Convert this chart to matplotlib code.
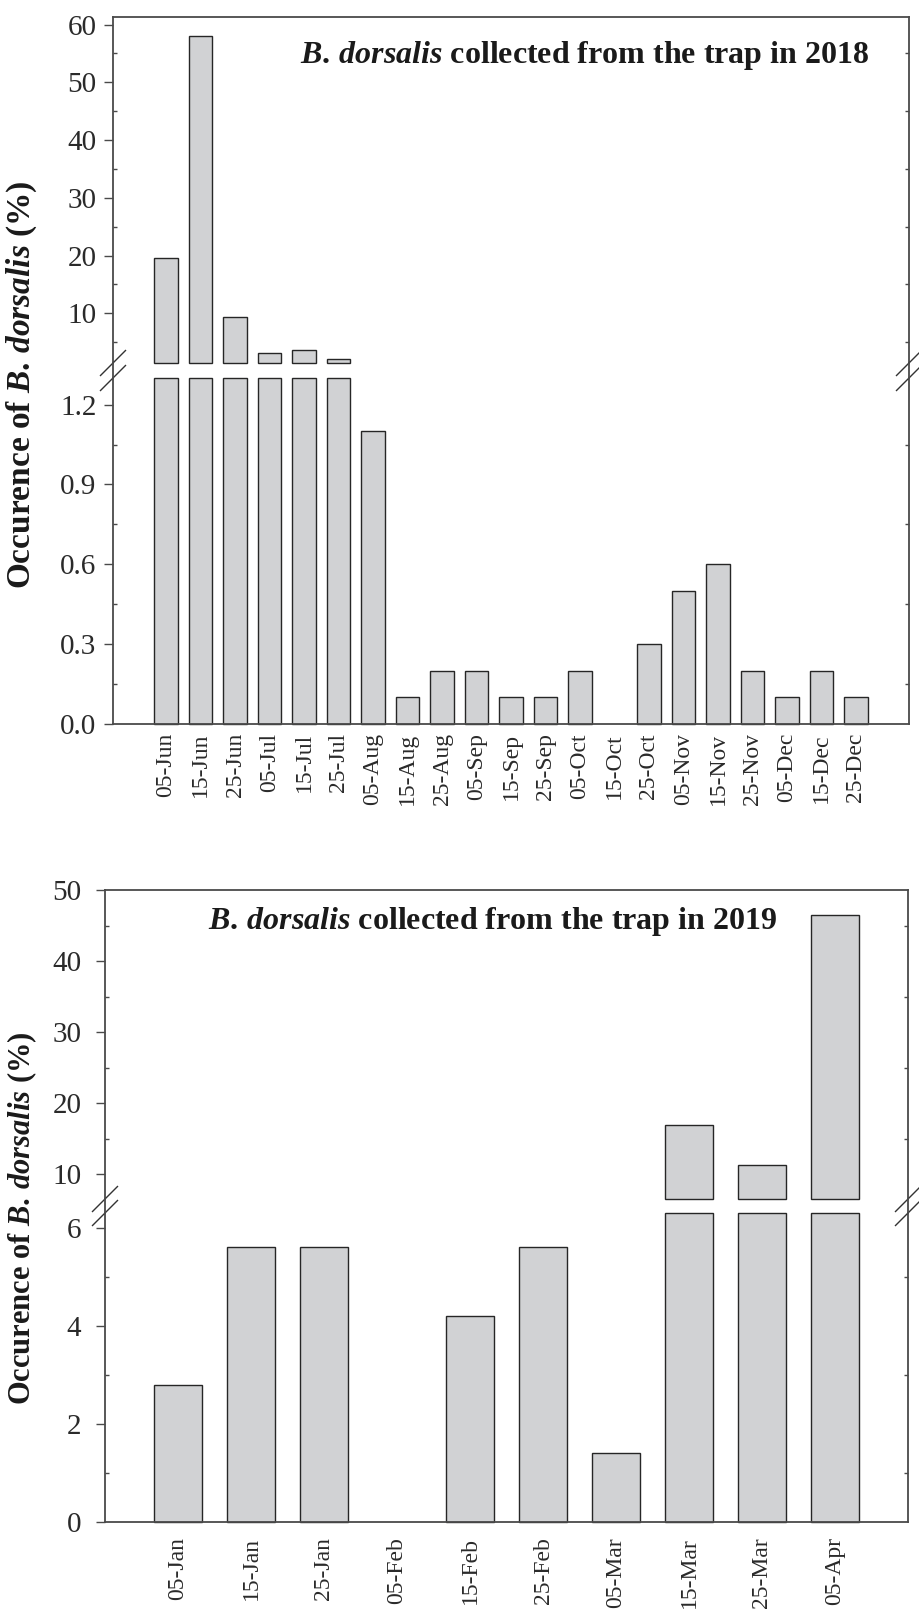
import numpy as np
import matplotlib.pyplot as plt
from matplotlib.lines import Line2D
from matplotlib.ticker import MultipleLocator, FormatStrFormatter

plt.rcParams['font.family'] = 'Liberation Serif'
plt.rcParams['mathtext.fontset'] = 'custom'
plt.rcParams['mathtext.it'] = 'Liberation Serif:italic:bold'
plt.rcParams['mathtext.rm'] = 'Liberation Serif:bold'

# data (occurrence in %)
dates_2018 = ['05-Jun', '15-Jun', '25-Jun', '05-Jul', '15-Jul', '25-Jul', '05-Aug',
              '15-Aug', '25-Aug', '05-Sep', '15-Sep', '25-Sep', '05-Oct', '15-Oct',
              '25-Oct', '05-Nov', '15-Nov', '25-Nov', '05-Dec', '15-Dec', '25-Dec']
occ_2018 = [19.6, 58.0, 9.3, 3.2, 3.7, 2.1, 1.1,
            0.1, 0.2, 0.2, 0.1, 0.1, 0.2, 0.0,
            0.3, 0.5, 0.6, 0.2, 0.1, 0.2, 0.1]

dates_2019 = ['05-Jan', '15-Jan', '25-Jan', '05-Feb', '15-Feb',
              '25-Feb', '05-Mar', '15-Mar', '25-Mar', '05-Apr']
occ_2019 = [2.8, 5.6, 5.6, 0.0, 4.2, 5.6, 1.4, 16.9, 11.3, 46.5]

BAR_FILL = '#d1d2d4'
BAR_EDGE = '#262626'
SPINE = '#4a4a4a'
TXT = '#2a2a2a'

fig = plt.figure(figsize=(9.19, 16.13), dpi=100)


def draw_panel(ax_lo, ax_hi, labels, values, xlim, lo_lim, hi_lim, lo_major, hi_major,
               lo_fmt, ylab_pad, xlab_pad, xlab_size, bar_w, px_w, px_h):
    x = np.arange(len(labels))
    v = np.array(values)

    # lower segment: bars cut at the top of the range (empty dates get no bar)
    m = v > 0
    bars = ax_lo.bar(x[m], np.minimum(v[m], lo_lim[1]), width=bar_w, color=BAR_FILL,
                     edgecolor=BAR_EDGE, linewidth=1.0, zorder=2)
    for b in bars:
        b.set_clip_on(False)
    # upper segment: only the bars that reach it, starting at the segment floor
    m = v > hi_lim[0]
    bars = ax_hi.bar(x[m], v[m] - hi_lim[0], bottom=hi_lim[0], width=bar_w, color=BAR_FILL,
                     edgecolor=BAR_EDGE, linewidth=1.0, zorder=2)
    for b in bars:
        b.set_clip_on(False)

    for ax, lim, major in [(ax_lo, lo_lim, lo_major), (ax_hi, hi_lim, hi_major)]:
        ax.set_xlim(*xlim)
        ax.set_ylim(*lim)
        ax.yaxis.set_major_locator(MultipleLocator(major))
        ax.yaxis.set_minor_locator(MultipleLocator(major / 2))
        ax.tick_params(axis='y', which='major', direction='out', length=6.5, width=1.0,
                       left=True, right=False, labelsize=21, pad=ylab_pad,
                       color=SPINE, labelcolor=TXT)
        ax.tick_params(axis='y', which='minor', direction='in', length=3.2, width=1.0,
                       left=True, right=True, color=SPINE)
        for s in ax.spines.values():
            s.set_color(SPINE)
            s.set_linewidth(1.3)

    ax_lo.yaxis.set_major_formatter(FormatStrFormatter(lo_fmt))
    ax_lo.spines['top'].set_visible(False)
    ax_hi.spines['bottom'].set_visible(False)

    ax_hi.set_xticks([])
    ax_lo.set_xticks(x)
    ax_lo.set_xticklabels(labels, rotation=90, fontsize=xlab_size, color=TXT)
    ax_lo.tick_params(axis='x', length=0, pad=xlab_pad)

    # spines continue through the gap
    b_hi = ax_hi.get_position()
    b_lo = ax_lo.get_position()
    for xf in [b_hi.x0, b_hi.x1]:
        fig.add_artist(Line2D([xf, xf], [b_lo.y1, b_hi.y0], transform=fig.transFigure,
                              color=SPINE, linewidth=1.3))

    # break marks
    dx = 12.5 / px_w
    dy = 12.5 / px_h
    kw = dict(color='#333333', linewidth=1.0, clip_on=False, zorder=5)
    for xa in [0, 1]:
        ax_hi.plot([xa - dx, xa + dx], [-dy, dy], transform=ax_hi.transAxes, **kw)
        ax_lo.plot([xa - dx, xa + dx], [1 - dy, 1 + dy], transform=ax_lo.transAxes, **kw)


# 2018 panel
H1 = 346 / 1613
ax1_hi = fig.add_axes([113 / 919, 1 - 363 / 1613, 796 / 919, H1])
ax1_lo = fig.add_axes([113 / 919, 1 - 724 / 1613, 796 / 919, H1])
draw_panel(ax1_lo, ax1_hi, dates_2018, occ_2018, (-1.54, 21.54), (0, 1.3), (1.4, 61.3),
           0.3, 10, '%.1f', 5.5, 6.5, 17, 0.68, 796, 346)

# 2019 panel
H2 = 309 / 1613
ax2_hi = fig.add_axes([105 / 919, 1 - 1199 / 1613, 803 / 919, H2])
ax2_lo = fig.add_axes([105 / 919, 1 - 1522 / 1613, 803 / 919, H2])
draw_panel(ax2_lo, ax2_hi, dates_2019, occ_2019, (-1, 10), (0, 6.3), (6.5, 50),
           2, 10, '%d', 10.5, 11, 17, 0.67, 803, 309)

fig.text(300 / 919, 1 - 63 / 1613, r'$\mathit{B.\,dorsalis}$ collected from the trap in 2018',
         fontsize=23, fontweight='bold', color='#1a1a1a', ha='left', va='baseline')
fig.text(208 / 919, 1 - 929 / 1613, r'$\mathit{B.\,dorsalis}$ collected from the trap in 2019',
         fontsize=23, fontweight='bold', color='#1a1a1a', ha='left', va='baseline')

fig.text(22 / 919, 1 - 385 / 1613, r'Occurence of $\mathit{B.\,dorsalis}$ (%)',
         fontsize=24, fontweight='bold', color='#1a1a1a', rotation=90, ha='center', va='center')
fig.text(22 / 919, 1 - 1218 / 1613, r'Occurence of $\mathit{B.\,dorsalis}$ (%)',
         fontsize=22, fontweight='bold', color='#1a1a1a', rotation=90, ha='center', va='center')

fig.savefig('out.png', dpi=100, facecolor='white')
